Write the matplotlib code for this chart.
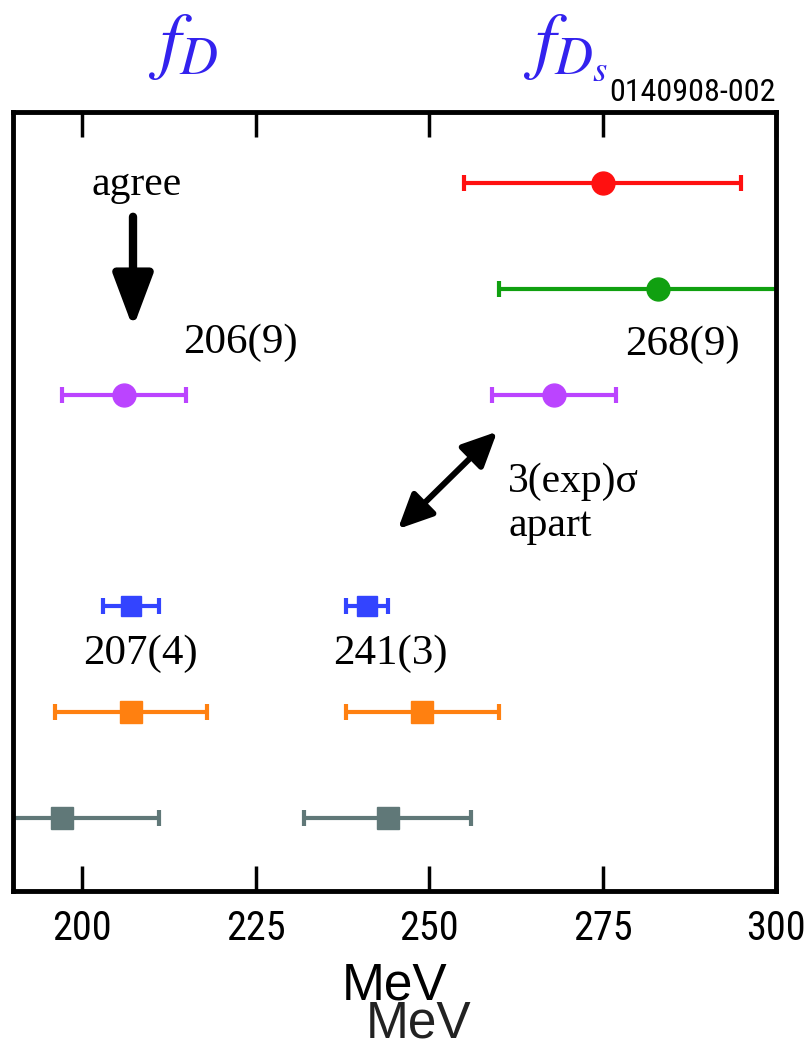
import matplotlib
matplotlib.use("Agg")
import matplotlib.pyplot as plt
from matplotlib import font_manager

# Decay-constant results (MeV): central value and uncertainty, one row per source
row_y = [7, 6, 5, 3, 2, 1]

red_x, red_err = [275], [20]
green_x, green_err = [283], [23]
purple_x, purple_err = [206, 268], [9, 9]
blue_x, blue_err = [207, 241], [4, 3]
orange_x, orange_err = [207, 249], [11, 11]
gray_x, gray_err = [197, 244], [14, 12]

xticks = [200, 225, 250, 275, 300]

plt.rcParams['mathtext.fontset'] = 'stix'

# Narrow face for tick labels if one is available
narrow_names = {f.name for f in font_manager.fontManager.ttflist}
narrow = None
for cand in ['Liberation Sans Narrow', 'DejaVu Sans Condensed', 'Roboto Condensed',
             'Open Sans Condensed']:
    if cand in narrow_names:
        narrow = dict(family=[cand, 'DejaVu Sans'])
        break
if narrow is None:
    narrow = dict(family=['DejaVu Sans'], stretch='condensed')
    condensed_faces = [f for f in font_manager.fontManager.ttflist
                       if f.name == 'DejaVu Sans' and f.stretch == 'condensed']
    if not condensed_faces:
        narrow = dict(family=['Roboto', 'DejaVu Sans'])

fig = plt.figure(figsize=(8.1, 10.4), dpi=100)
ax = fig.add_axes([13 / 810, 149 / 1040, 763 / 810, 779 / 1040])
ax.set_xlim(190, 300)
ax.set_ylim(0.31, 7.67)

series = [
    (red_x, red_err, row_y[0], '#ff1010', 'o', 16.5),
    (green_x, green_err, row_y[1], '#10a010', 'o', 16.5),
    (purple_x, purple_err, row_y[2], '#bb44ff', 'o', 16.5),
    (blue_x, blue_err, row_y[3], '#3344ff', 's', 14),
    (orange_x, orange_err, row_y[4], '#ff8010', 's', 15.5),
    (gray_x, gray_err, row_y[5], '#607878', 's', 15.5),
]
for xs, errs, yv, col, mk, ms in series:
    ax.errorbar(xs, [yv] * len(xs), xerr=errs, fmt=mk, color=col, ms=ms,
                elinewidth=3, capsize=6, capthick=3, clip_on=True)

serif = ['Liberation Serif', 'DejaVu Serif']

# Annotations
ax.text(207.8, 6.98, 'agree', family=serif, fontsize=30, ha='center', va='center')
ax.annotate('', xy=(207.3, 5.63), xytext=(207.3, 6.68),
            arrowprops=dict(arrowstyle='-|>,head_length=0.8,head_width=0.3',
                            color='k', lw=6, mutation_scale=40,
                            shrinkA=0, shrinkB=0))
ax.text(222.8, 5.49, '206(9)', family=serif, fontsize=31, ha='center', va='center')
ax.text(286.5, 5.47, '268(9)', family=serif, fontsize=31, ha='center', va='center')
ax.annotate('', xy=(259.8, 4.65), xytext=(245.5, 3.73),
            arrowprops=dict(arrowstyle='<|-|>,head_length=0.7,head_width=0.33',
                            color='k', lw=4.3, mutation_scale=30,
                            shrinkA=0, shrinkB=0))
ax.text(261.4, 4.18, '3(exp)σ', family=serif, fontsize=30, ha='left', va='center')
ax.text(261.4, 3.76, 'apart', family=serif, fontsize=30, ha='left', va='center')
ax.text(208.4, 2.55, '207(4)', family=serif, fontsize=31, ha='center', va='center')
ax.text(244.4, 2.55, '241(3)', family=serif, fontsize=31, ha='center', va='center')

# Axes styling
ax.set_yticks([])
ax.set_xticks(xticks)
ax.set_xticklabels([str(t) for t in xticks], fontsize=29, **narrow)
ax.tick_params(axis='x', direction='in', length=18, width=2.5, top=True,
               bottom=True, pad=13)
for sp in ax.spines.values():
    sp.set_linewidth(3.5)

# Headings and labels
fig.text(183 / 810, 1 - 65 / 1040, r'$f_D$', color='#3322ee', fontsize=54,
         ha='center', va='baseline')
fig.text(566 / 810, 1 - 65 / 1040, r'$f_{D_s}$', color='#3322ee', fontsize=54,
         ha='center', va='baseline')
fig.text(776 / 810, 1 - 101 / 1040, '0140908-002', fontsize=23,
         ha='right', va='baseline', **narrow)
fig.text(395 / 810, 40 / 1040, 'MeV', family=['Liberation Sans', 'DejaVu Sans'],
         fontsize=37, ha='center', va='baseline')
fig.text(419 / 810, 2 / 1040, 'MeV', family=['Liberation Sans', 'DejaVu Sans'],
         fontsize=37, ha='center', va='baseline', color='#222222')

fig.savefig('out.png', dpi=100)
